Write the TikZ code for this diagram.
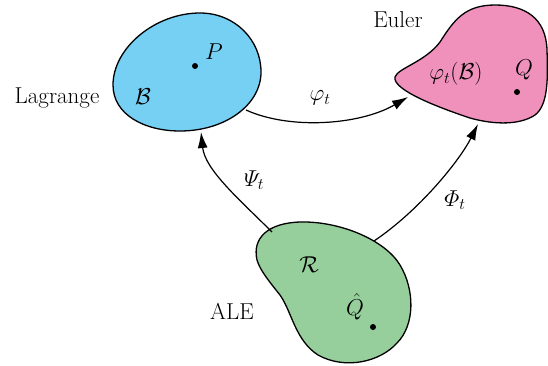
\RequirePackage{fix-cm}
\documentclass[tikz,border=0pt]{standalone}
\usepackage{amsmath}
\usetikzlibrary{arrows.meta}
\definecolor{blobblue}{RGB}{118,208,244}
\definecolor{blobpink}{RGB}{240,145,188}
\definecolor{blobgreen}{RGB}{150,206,156}
\begin{document}
\begin{tikzpicture}[x=1pt,y=-1pt,
  blob/.style={draw=black,line width=1.3pt},
  map/.style={line width=1.2pt,-{Latex[length=16pt,width=10pt]}},
  lbl/.style={font=\fontsize{23}{27}\selectfont,inner sep=0pt},
  pt/.style={circle,fill=black,inner sep=0pt,minimum size=6pt}]
\useasboundingbox (0,0) rectangle (548,365);
% blue body
\draw[blob,fill=blobblue] (200,13) .. controls (235,13) and (261,40) .. (261,72)
  .. controls (261,105) and (225,131) .. (180,131)
  .. controls (145,131) and (113,115) .. (113,85)
  .. controls (113,48) and (155,13) .. (200,13) -- cycle;
% pink body
\draw[blob,fill=blobpink] (395,77) .. controls (398,68) and (425,62) .. (440,42)
  .. controls (454,20) and (465,5) .. (495,5)
  .. controls (525,5) and (546,18) .. (547,50)
  .. controls (548,80) and (548,105) .. (535,115)
  .. controls (520,125) and (495,125) .. (470,118)
  .. controls (440,108) and (392,90) .. (395,77) -- cycle;
% green body
\draw[blob,fill=blobgreen] (257,260) .. controls (252,238) and (268,223) .. (300,222)
  .. controls (340,221) and (385,240) .. (400,265)
  .. controls (415,290) and (415,325) .. (397,343)
  .. controls (380,362) and (345,370) .. (318,355)
  .. controls (295,340) and (292,312) .. (280,295)
  .. controls (268,280) and (260,270) .. (257,260) -- cycle;
% points
\node[pt] (P) at (195,66) {};
\node[pt] (Q) at (517,92) {};
\node[pt] (Qh) at (373,327) {};
\node[lbl] (Plbl) at (214,52) {$P$};
\node[lbl] (Qlbl) at (524,70) {$Q$};
\node[lbl] (Qhlbl) at (355,307) {$\hat{Q}$};
\node[lbl] (B) at (143,97) {$\mathcal{B}$};
\node[lbl] (phiB) at (456,74) {$\varphi_t(\mathcal{B})$};
\node[lbl] (R) at (309,265) {$\mathcal{R}$};
\node[lbl] (lag) at (57,98) {Lagrange};
\node[lbl] (eul) at (398,20) {Euler};
\node[lbl] (ale) at (232,311) {ALE};
% connector ends on the boundaries
\coordinate (bOut) at (246,110);
\coordinate (pIn) at (408,97);
\coordinate (gL) at (272,232);
\coordinate (bIn) at (201,132);
\coordinate (gR) at (374,241);
\coordinate (pIn2) at (478,124);
\draw[map] (bOut) .. controls (290,130) and (360,125) .. (pIn);
\draw[map] (gL) .. controls (240,200) and (205,170) .. (bIn);
\draw[map] (gR) .. controls (420,210) and (460,160) .. (pIn2);
\node[lbl] (phit) at (320,98) {$\varphi_t$};
\node[lbl] (psit) at (254,180) {$\varPsi_t$};
\node[lbl] (Phit) at (455,200) {$\varPhi_t$};
\end{tikzpicture}
\end{document}
